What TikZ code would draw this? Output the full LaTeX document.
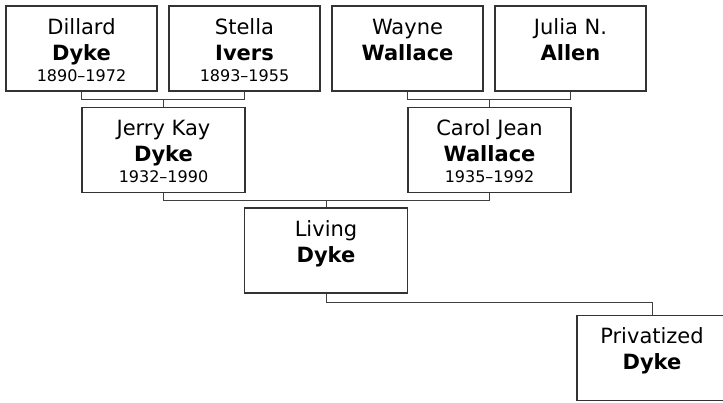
\documentclass[tikz,border=0pt]{standalone}
\usepackage{fontspec}
\setmainfont{DejaVu Sans}
\usetikzlibrary{positioning}

\definecolor{boxline}{HTML}{333333}
\definecolor{linkline}{HTML}{404040}

% name on two lines, years (or nothing) below
\newcommand{\personname}[3]{\rule{0pt}{24pt}#1\\\textbf{#2}\\[-5pt]{\fontsize{16}{19}\selectfont\strut #3}}

\begin{document}
\begin{tikzpicture}[
    x=1pt, y=-1pt,
    person/.style={draw=boxline, line width=1.2pt, minimum width=151pt, minimum height=85pt, align=center, inner sep=0pt, font=\fontsize{21}{26}\selectfont},
    child/.style={person, minimum width=163pt},
    link/.style={draw=linkline, line width=1pt}
]

\useasboundingbox (0,0) rectangle (723,402);

% -------------------------
% Grandparents (Top Row)
% -------------------------
\node[person] (Dillard) at (81.5, 48.5) {\personname{Dillard}{Dyke}{1890--1972}};
\node[person] (Stella) at (244.5, 48.5) {\personname{Stella}{Ivers}{1893--1955}};
\node[person] (Wayne) at (407.5, 48.5) {\personname{Wayne}{Wallace}{}};
\node[person] (Julia) at (570.5, 48.5) {\personname{Julia N.}{Allen}{}};

% -------------------------
% Parents
% -------------------------
\node[child] (Jerry) at (163.5, 150) {\personname{Jerry Kay}{Dyke}{1932--1990}};
\node[child] (Carol) at (489.5, 150) {\personname{Carol Jean}{Wallace}{1935--1992}};

% -------------------------
% Children
% -------------------------
\node[child] (Living) at (326, 250.5) {\personname{Living}{Dyke}{}};
\node[person, minimum width=150pt] (Privatized) at (652, 358) {\personname{Privatized}{Dyke}{}};

% -------------------------
% Family Links
% -------------------------

% Dyke couple
\draw[link] (Dillard.south) -- ++(0,8) coordinate (DykeBar) -| (Stella.south);
\draw[link] (Jerry.north) -- (Jerry.north |- DykeBar);

% Wallace couple
\draw[link] (Wayne.south) -- ++(0,8) coordinate (WallaceBar) -| (Julia.south);
\draw[link] (Carol.north) -- (Carol.north |- WallaceBar);

% Parents
\draw[link] (Jerry.south) -- ++(0,7) coordinate (ParentBar) -| (Carol.south);
\draw[link] (Living.north) -- (Living.north |- ParentBar);

% Living to Privatized
\draw[link] (Living.south) -- ++(0,9) -| (Privatized.north);

\end{tikzpicture}
\end{document}
